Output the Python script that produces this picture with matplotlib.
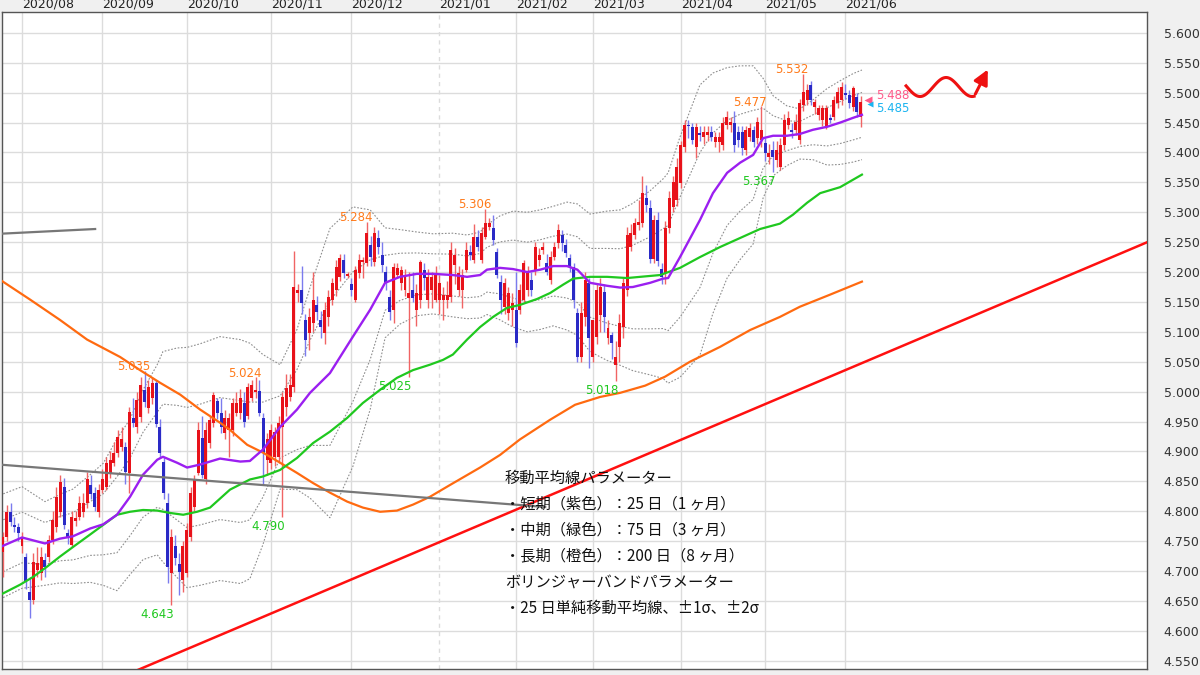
import numpy as np
import matplotlib
matplotlib.use("Agg")
import matplotlib.pyplot as plt
from matplotlib.ticker import FormatStrFormatter

plt.rcParams['font.family'] = ['Noto Sans CJK JP', 'DejaVu Sans']

# 日足 (bar index 0 = 2020/07/27)
opens = [4.731, 4.757, 4.799, 4.777, 4.774, 4.741, 4.724, 4.665, 4.652, 4.702,
         4.697, 4.719, 4.724, 4.752, 4.774, 4.798, 4.841, 4.764, 4.744, 4.783,
         4.791, 4.798, 4.814, 4.844, 4.831, 4.798, 4.836, 4.841, 4.864, 4.881,
         4.898, 4.908, 4.908, 4.864, 4.956, 4.940, 4.958, 5.003, 4.973, 4.990,
         5.015, 4.940, 4.883, 4.814, 4.697, 4.741, 4.711, 4.685, 4.697, 4.757,
         4.807, 4.864, 4.923, 4.853, 4.914, 4.948, 4.985, 4.965, 4.931, 4.936,
         4.936, 4.965, 4.965, 4.981, 4.960, 4.990, 5.000, 5.001, 4.956, 4.886,
         4.881, 4.891, 4.891, 4.941, 4.975, 4.991, 5.008, 5.165, 5.170, 5.120,
         5.098, 5.115, 5.145, 5.120, 5.098, 5.125, 5.154, 5.170, 5.192, 5.220,
         5.194, 5.180, 5.154, 5.199, 5.217, 5.215, 5.246, 5.217, 5.257, 5.229,
         5.200, 5.159, 5.137, 5.195, 5.182, 5.170, 5.157, 5.170, 5.137, 5.154,
         5.204, 5.154, 5.170, 5.154, 5.154, 5.154, 5.154, 5.159, 5.212, 5.170,
         5.170, 5.204, 5.234, 5.220, 5.259, 5.220, 5.259, 5.276, 5.274, 5.234,
         5.184, 5.142, 5.132, 5.137, 5.137, 5.137, 5.154, 5.170, 5.187, 5.204,
         5.220, 5.237, 5.215, 5.187, 5.225, 5.249, 5.262, 5.246, 5.224, 5.209,
         5.132, 5.058, 5.125, 5.182, 5.058, 5.092, 5.128, 5.167, 5.090, 5.095,
         5.045, 5.075, 5.108, 5.170, 5.242, 5.262, 5.279, 5.282, 5.324, 5.307,
         5.222, 5.287, 5.205, 5.199, 5.274, 5.309, 5.321, 5.349, 5.409, 5.446,
         5.443, 5.410, 5.433, 5.426, 5.429, 5.434, 5.418, 5.418, 5.413, 5.446,
         5.446, 5.450, 5.434, 5.434, 5.404, 5.426, 5.438, 5.424, 5.421, 5.416,
         5.393, 5.404, 5.388, 5.376, 5.413, 5.446, 5.438, 5.438, 5.421, 5.480,
         5.488, 5.513, 5.476, 5.463, 5.455, 5.443, 5.458, 5.460, 5.483, 5.488,
         5.500, 5.496, 5.476, 5.493, 5.460]
highs = [4.765, 4.810, 4.814, 4.790, 4.780, 4.765, 4.730, 4.690, 4.730, 4.740,
         4.740, 4.730, 4.760, 4.800, 4.840, 4.860, 4.855, 4.770, 4.800, 4.800,
         4.825, 4.830, 4.865, 4.860, 4.840, 4.845, 4.870, 4.890, 4.900, 4.915,
         4.935, 4.940, 4.915, 4.975, 4.990, 5.000, 5.025, 5.035, 5.020, 5.025,
         5.020, 4.955, 4.890, 4.830, 4.770, 4.760, 4.730, 4.750, 4.780, 4.840,
         4.860, 4.950, 4.960, 4.950, 4.960, 5.000, 4.990, 4.990, 4.970, 4.965,
         4.990, 5.000, 5.005, 5.000, 5.015, 5.020, 5.024, 5.020, 4.965, 4.930,
         4.945, 4.940, 4.960, 5.000, 5.030, 5.030, 5.235, 5.180, 5.210, 5.130,
         5.140, 5.200, 5.160, 5.135, 5.150, 5.170, 5.190, 5.220, 5.230, 5.230,
         5.200, 5.190, 5.210, 5.230, 5.225, 5.284, 5.260, 5.275, 5.270, 5.250,
         5.210, 5.170, 5.215, 5.215, 5.210, 5.205, 5.200, 5.200, 5.180, 5.220,
         5.215, 5.205, 5.200, 5.210, 5.195, 5.175, 5.185, 5.250, 5.240, 5.210,
         5.205, 5.250, 5.245, 5.280, 5.270, 5.275, 5.306, 5.290, 5.295, 5.240,
         5.195, 5.190, 5.175, 5.165, 5.200, 5.180, 5.220, 5.210, 5.200, 5.250,
         5.240, 5.250, 5.230, 5.235, 5.250, 5.280, 5.270, 5.255, 5.230, 5.215,
         5.140, 5.150, 5.200, 5.190, 5.120, 5.180, 5.190, 5.180, 5.120, 5.100,
         5.085, 5.130, 5.190, 5.275, 5.280, 5.290, 5.320, 5.360, 5.345, 5.320,
         5.295, 5.300, 5.215, 5.285, 5.335, 5.360, 5.390, 5.420, 5.455, 5.455,
         5.450, 5.450, 5.445, 5.445, 5.445, 5.445, 5.435, 5.435, 5.460, 5.470,
         5.460, 5.470, 5.445, 5.445, 5.445, 5.450, 5.445, 5.460, 5.477, 5.425,
         5.415, 5.420, 5.420, 5.425, 5.465, 5.470, 5.450, 5.465, 5.490, 5.532,
         5.515, 5.520, 5.490, 5.480, 5.480, 5.480, 5.465, 5.495, 5.510, 5.518,
         5.515, 5.505, 5.512, 5.500, 5.495]
lows = [4.690, 4.750, 4.775, 4.765, 4.750, 4.730, 4.670, 4.622, 4.645, 4.690,
        4.685, 4.690, 4.715, 4.745, 4.765, 4.790, 4.770, 4.745, 4.740, 4.775,
        4.785, 4.790, 4.805, 4.820, 4.800, 4.790, 4.830, 4.835, 4.855, 4.875,
        4.890, 4.900, 4.845, 4.830, 4.940, 4.930, 4.950, 4.975, 4.965, 4.980,
        4.940, 4.890, 4.820, 4.680, 4.643, 4.710, 4.660, 4.665, 4.690, 4.750,
        4.800, 4.860, 4.855, 4.845, 4.905, 4.940, 4.955, 4.930, 4.920, 4.891,
        4.925, 4.960, 4.955, 4.940, 4.955, 4.985, 4.990, 4.960, 4.845, 4.860,
        4.870, 4.875, 4.880, 4.790, 4.960, 4.985, 5.000, 5.150, 5.130, 5.060,
        5.070, 5.100, 5.120, 5.090, 5.080, 5.110, 5.145, 5.160, 5.185, 5.190,
        5.190, 5.160, 5.150, 5.190, 5.190, 5.210, 5.210, 5.210, 5.230, 5.200,
        5.170, 5.120, 5.115, 5.190, 5.170, 5.160, 5.025, 5.150, 5.110, 5.140,
        5.170, 5.140, 5.140, 5.150, 5.130, 5.120, 5.140, 5.150, 5.180, 5.160,
        5.140, 5.200, 5.220, 5.215, 5.235, 5.215, 5.255, 5.270, 5.245, 5.190,
        5.130, 5.130, 5.120, 5.110, 5.075, 5.130, 5.150, 5.160, 5.160, 5.195,
        5.210, 5.230, 5.195, 5.180, 5.220, 5.240, 5.235, 5.225, 5.200, 5.140,
        5.050, 5.050, 5.110, 5.040, 5.050, 5.080, 5.100, 5.100, 5.080, 5.055,
        5.018, 5.050, 5.090, 5.160, 5.235, 5.255, 5.270, 5.275, 5.300, 5.215,
        5.215, 5.210, 5.180, 5.180, 5.265, 5.300, 5.310, 5.340, 5.400, 5.425,
        5.415, 5.390, 5.420, 5.415, 5.420, 5.420, 5.410, 5.400, 5.405, 5.440,
        5.435, 5.400, 5.410, 5.395, 5.395, 5.420, 5.410, 5.415, 5.410, 5.385,
        5.380, 5.367, 5.375, 5.370, 5.405, 5.440, 5.425, 5.430, 5.415, 5.470,
        5.480, 5.480, 5.465, 5.455, 5.445, 5.440, 5.450, 5.455, 5.475, 5.480,
        5.490, 5.475, 5.470, 5.460, 5.443]
closes = [4.757, 4.799, 4.782, 4.774, 4.764, 4.756, 4.681, 4.652, 4.715, 4.714,
          4.724, 4.707, 4.752, 4.786, 4.824, 4.849, 4.777, 4.756, 4.791, 4.789,
          4.814, 4.814, 4.853, 4.828, 4.807, 4.836, 4.853, 4.881, 4.886, 4.898,
          4.924, 4.920, 4.866, 4.966, 4.948, 4.986, 5.011, 4.983, 5.008, 5.015,
          4.945, 4.898, 4.831, 4.707, 4.757, 4.722, 4.699, 4.741, 4.769, 4.831,
          4.853, 4.936, 4.861, 4.936, 4.953, 4.995, 4.965, 4.941, 4.956, 4.956,
          4.981, 4.981, 4.990, 4.950, 5.008, 5.011, 5.003, 4.965, 4.898, 4.920,
          4.936, 4.933, 4.948, 4.991, 5.006, 5.011, 5.175, 5.170, 5.149, 5.087,
          5.125, 5.154, 5.133, 5.108, 5.137, 5.159, 5.182, 5.209, 5.224, 5.199,
          5.196, 5.170, 5.204, 5.220, 5.221, 5.266, 5.225, 5.266, 5.242, 5.212,
          5.182, 5.133, 5.209, 5.207, 5.204, 5.195, 5.165, 5.157, 5.165, 5.217,
          5.190, 5.192, 5.192, 5.199, 5.182, 5.162, 5.162, 5.237, 5.229, 5.199,
          5.195, 5.237, 5.229, 5.259, 5.242, 5.266, 5.282, 5.282, 5.254, 5.195,
          5.154, 5.182, 5.165, 5.149, 5.082, 5.170, 5.215, 5.199, 5.170, 5.242,
          5.229, 5.242, 5.200, 5.225, 5.242, 5.271, 5.249, 5.232, 5.209, 5.154,
          5.058, 5.132, 5.187, 5.090, 5.120, 5.170, 5.175, 5.125, 5.107, 5.082,
          5.058, 5.115, 5.182, 5.262, 5.266, 5.282, 5.284, 5.332, 5.312, 5.222,
          5.287, 5.218, 5.192, 5.274, 5.324, 5.351, 5.376, 5.413, 5.446, 5.444,
          5.421, 5.443, 5.429, 5.434, 5.434, 5.426, 5.426, 5.426, 5.450, 5.460,
          5.451, 5.413, 5.421, 5.408, 5.438, 5.441, 5.418, 5.451, 5.438, 5.399,
          5.399, 5.393, 5.404, 5.413, 5.455, 5.458, 5.434, 5.451, 5.483, 5.501,
          5.505, 5.488, 5.484, 5.475, 5.475, 5.475, 5.455, 5.488, 5.501, 5.510,
          5.496, 5.483, 5.508, 5.468, 5.485]

month_labels = ['2020/08', '2020/09', '2020/10', '2020/11', '2020/12', '2021/01',
                '2021/02', '2021/03', '2021/04', '2021/05', '2021/06']
month_start = [5, 26, 48, 70, 91, 114, 134, 154, 177, 199, 220]

# 移動平均 (読み取り)
ma25_idx = [-0.7, 5.0, 11.0, 14.9, 18.3, 22.8, 26.2, 29.8, 33.2, 36.6, 40.3, 41.8, 45.5,
            48.1, 51.5, 56.7, 62.0, 64.5, 67.9, 72.4, 76.8, 80.2, 85.4, 91.4, 95.9, 99.8,
            103.7, 108.1, 112.3, 117.5, 121.2, 124.6, 126.4, 129.8, 133.2, 136.9, 140.3,
            143.7, 147.3, 150.0, 153.3, 157.8, 161.2, 164.5, 169.0, 172.4, 173.7, 176.8,
            182.0, 185.4, 189.1, 192.5, 195.9, 198.5, 201.1, 204.7, 208.1, 211.5, 215.2,
            218.6, 222.0, 224.3]
ma25_val = [4.740, 4.756, 4.746, 4.754, 4.758, 4.771, 4.778, 4.794, 4.824, 4.861, 4.886,
            4.891, 4.881, 4.873, 4.878, 4.888, 4.883, 4.884, 4.903, 4.941, 4.970, 4.998,
            5.031, 5.092, 5.137, 5.182, 5.192, 5.197, 5.197, 5.195, 5.192, 5.195, 5.204,
            5.207, 5.205, 5.200, 5.204, 5.210, 5.210, 5.204, 5.182, 5.177, 5.174, 5.175,
            5.182, 5.189, 5.190, 5.225, 5.287, 5.332, 5.366, 5.383, 5.396, 5.424, 5.428,
            5.428, 5.431, 5.438, 5.443, 5.450, 5.458, 5.463]
# ボリンジャーバンド 2σ 幅 (ma25_idx と同じ位置)
bb_2sigma = [0.087, 0.085, 0.070, 0.074, 0.079, 0.090, 0.102, 0.127, 0.130, 0.142, 0.159,
             0.176, 0.192, 0.201, 0.202, 0.204, 0.204, 0.197, 0.159, 0.104, 0.134, 0.176,
             0.242, 0.217, 0.167, 0.092, 0.079, 0.070, 0.067, 0.070, 0.070, 0.072, 0.075,
             0.087, 0.097, 0.100, 0.100, 0.100, 0.107, 0.110, 0.115, 0.125, 0.130, 0.140,
             0.154, 0.167, 0.176, 0.201, 0.226, 0.201, 0.176, 0.162, 0.149, 0.100, 0.067,
             0.050, 0.042, 0.050, 0.064, 0.070, 0.074, 0.075]

ma75_idx = [-0.7, 4.5, 7.9, 11.5, 14.9, 18.3, 22.8, 26.2, 29.8, 33.2, 36.6, 40.3, 43.7,
            47.1, 50.7, 54.1, 59.3, 64.5, 67.9, 72.4, 76.8, 81.0, 85.4, 89.9, 94.0, 98.5,
            102.9, 107.1, 111.5, 114.9, 117.5, 121.2, 124.6, 128.0, 131.6, 135.0, 139.5,
            142.9, 146.3, 148.9, 153.3, 157.8, 163.0, 166.4, 171.6, 176.8, 182.0, 187.3,
            192.5, 197.7, 202.9, 206.3, 210.0, 213.4, 218.6, 224.3]
ma75_val = [4.660, 4.677, 4.690, 4.707, 4.724, 4.740, 4.761, 4.777, 4.794, 4.799, 4.802,
            4.801, 4.797, 4.794, 4.799, 4.806, 4.836, 4.853, 4.858, 4.869, 4.889, 4.914,
            4.933, 4.956, 4.981, 5.003, 5.023, 5.036, 5.045, 5.053, 5.062, 5.087, 5.108,
            5.125, 5.140, 5.145, 5.155, 5.165, 5.179, 5.189, 5.192, 5.192, 5.190, 5.192,
            5.195, 5.207, 5.225, 5.242, 5.257, 5.272, 5.281, 5.296, 5.316, 5.332, 5.342,
            5.363]

ma200_idx = [-0.7, 7.1, 14.9, 22.0, 30.6, 35.8, 41.0, 46.3, 51.5, 56.7, 59.3, 63.8, 67.9,
             72.4, 76.8, 81.0, 85.4, 89.9, 94.0, 98.5, 102.9, 107.1, 111.5, 116.8, 124.6,
             129.8, 135.0, 142.9, 149.4, 155.9, 161.2, 167.7, 172.9, 179.4, 187.3, 195.1,
             202.9, 208.1, 215.9, 224.3]
ma200_val = [5.187, 5.154, 5.120, 5.087, 5.058, 5.036, 5.015, 4.995, 4.970, 4.948, 4.936,
             4.911, 4.898, 4.881, 4.864, 4.847, 4.831, 4.816, 4.806, 4.799, 4.801, 4.811,
             4.824, 4.844, 4.873, 4.894, 4.920, 4.953, 4.978, 4.991, 4.998, 5.010, 5.025,
             5.050, 5.075, 5.103, 5.125, 5.142, 5.162, 5.184]

# トレンドライン
red_line_idx, red_line_val = [34.0, 298.8], [4.531, 5.250]
gray_a_idx, gray_a_val = [-1.0, 24.1], [5.264, 5.272]
gray_b_idx, gray_b_val = [-1.0, 141.6], [4.878, 4.807]

peak_bars = [37, 66, 95, 126, 198, 209]
trough_bars = [44, 73, 106, 160, 201]
ask_price, bid_price = 5.488, 5.485

RED, BLUE = '#e8121a', '#2a2ac6'
RED_W, BLUE_W = '#f06464', '#7b7bee'

fig = plt.figure(figsize=(12, 6.75), dpi=100, facecolor='#f0f0f0')
ax = fig.add_axes([0.0017, 0.0089, 0.9542, 0.9733])
ax.set_facecolor('white')

o, h, l, c = map(np.array, (opens, highs, lows, closes))
x = np.arange(len(c))
up = c >= o
body_lo = np.minimum(o, c)
body_h = np.maximum(np.abs(c - o), 0.002)

# bands
mid = np.array(ma25_val)
w2 = np.array(bb_2sigma)
for k in (1.0, 0.5, -0.5, -1.0):
    ax.plot(ma25_idx, mid + k * w2, color='#8e8e8e', lw=0.8, ls=(0, (1.5, 1.5)), zorder=2)

ax.vlines(x[up], l[up], h[up], color=RED_W, lw=1.0, zorder=3)
ax.vlines(x[~up], l[~up], h[~up], color=BLUE_W, lw=1.0, zorder=3)
ax.bar(x[up], body_h[up], bottom=body_lo[up], width=0.78, color=RED, lw=0, zorder=4)
ax.bar(x[~up], body_h[~up], bottom=body_lo[~up], width=0.78, color=BLUE, lw=0, zorder=4)

ax.plot(ma200_idx, ma200_val, color='#ff6a10', lw=1.6, zorder=5)
ax.plot(ma75_idx, ma75_val, color='#1fc81f', lw=1.6, zorder=5)
ax.plot(ma25_idx, ma25_val, color='#9b1ff0', lw=1.7, zorder=5)

ax.plot(red_line_idx, red_line_val, color='#ff1010', lw=1.8, zorder=5)
ax.plot(gray_a_idx, gray_a_val, color='#777777', lw=1.6, zorder=5)
ax.plot(gray_b_idx, gray_b_val, color='#777777', lw=1.6, zorder=5)

for i in peak_bars:
    ax.annotate(f'{highs[i]:.3f}', (i, highs[i]), xytext=(-8, 3), textcoords='offset points',
                ha='center', va='center', fontsize=8.5, color='#ff7a1a',
                family='DejaVu Sans', zorder=7)
for i in trough_bars:
    ax.annotate(f'{lows[i]:.3f}', (i, lows[i]), xytext=(-10, -7), textcoords='offset points',
                ha='center', va='center', fontsize=8.5, color='#1ec81e',
                family='DejaVu Sans', zorder=7)

last = len(c) - 1
ax.plot(last + 2.0, ask_price, marker='<', ms=6, color='#ff5a8a', mec='none', zorder=7)
ax.plot(last + 2.3, bid_price - 0.004, marker='<', ms=4, color='#1ab4f0', mec='none', zorder=7)
ax.annotate(f'{ask_price:.3f}', (last + 4, ask_price), xytext=(0, 3), textcoords='offset points',
            ha='left', va='center', fontsize=8.5, color='#ff5a8a', family='DejaVu Sans')
ax.annotate(f'{bid_price:.3f}', (last + 4, bid_price), xytext=(0, -5), textcoords='offset points',
            ha='left', va='center', fontsize=8.5, color='#1ab4f0', family='DejaVu Sans')

# 手書き風の矢印
def px(xp, yp):
    return (np.asarray(xp) - 2) / 1145, (669 - np.asarray(yp)) / 657
sx = np.linspace(906, 974, 120)
sy = 87 - 9.5 * np.cos(2 * np.pi * (sx - 946) / 52)
fx, fy = px(sx, sy)
ax.plot(fx, fy, color='#ee1111', lw=2.2, transform=ax.transAxes, zorder=7, clip_on=False)
ax.annotate('', xy=px(989, 67), xytext=px(974, 96.5), xycoords='axes fraction',
            textcoords='axes fraction',
            arrowprops=dict(arrowstyle='-|>', color='#ee1111', lw=2.2, mutation_scale=22))

txt = ['移動平均線パラメーター',
       '・短期（紫色）：25 日（1 ヶ月）',
       '・中期（緑色）：75 日（3 ヶ月）',
       '・長期（橙色）：200 日（8 ヶ月）',
       'ボリンジャーバンドパラメーター',
       '・25 日単純移動平均線、±1σ、±2σ']
for k, s in enumerate(txt):
    ax.text(0.4393, 0.2907 - k * 0.0396, s, transform=ax.transAxes, fontsize=11,
            color='#111111', va='center', ha='left', zorder=8)

ax.set_xlim(-0.21, 298.75)
ax.set_ylim(4.536, 5.635)
ax.set_yticks(np.arange(4.55, 5.6001, 0.05))
ax.yaxis.set_major_formatter(FormatStrFormatter('%.3f'))
ax.yaxis.tick_right()
ax.tick_params(axis='y', length=0, pad=12, labelsize=9, labelcolor='#333333')
ax.xaxis.tick_top()
ax.set_xticks(month_start)
ax.set_xticklabels(month_labels, ha='left')
ax.tick_params(axis='x', length=0, pad=1, labelsize=9, labelcolor='#222222')
for lab in ax.get_xticklabels() + ax.get_yticklabels():
    lab.set_family('DejaVu Sans')
ax.grid(True, color='#dcdcdc', lw=1, zorder=0)
ax.set_axisbelow(True)
ax.get_xgridlines()[month_labels.index('2021/01')].set_linestyle((0, (3, 3)))
for sp in ax.spines.values():
    sp.set_color('#555555')
    sp.set_linewidth(1)

fig.savefig('out.png', dpi=100, facecolor=fig.get_facecolor())
